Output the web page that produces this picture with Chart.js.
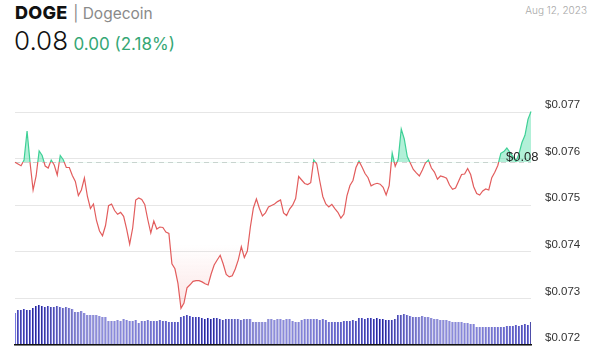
<!DOCTYPE html>
<html>
<head>
<meta charset="utf-8">
<script src="https://cdn.jsdelivr.net/npm/chart.js@4"></script>
<style>
  html, body { margin: 0; padding: 0; background: #fff; }
  body { width: 600px; height: 353px; position: relative; overflow: hidden; font-family: Inter, "Open Sans", sans-serif; }
  #chart { position: absolute; left: 0; top: 0; }
  .title { position: absolute; left: 15px; top: 2px; white-space: nowrap; }
  .sym { font-size: 18px; font-weight: 800; color: #111; letter-spacing: 0.3px; }
  .name { font-size: 15.5px; font-weight: 400; color: #8a8a8a; margin-left: 1px; }
  .price { position: absolute; left: 14px; top: 25px; white-space: nowrap; }
  .last { font-size: 26px; font-weight: 300; color: #111; }
  .chg { font-size: 17px; font-weight: 400; color: #35a775; margin-left: 1px; }
  .date { position: absolute; right: 13px; top: 4px; font-size: 10px; font-weight: 300; color: #a8a8a8; }
</style>
</head>
<body>
<div class="title"><span class="sym">DOGE</span> <span class="name">| Dogecoin</span></div>
<div class="price"><span class="last">0.08</span> <span class="chg">0.00 (2.18%)</span></div>
<div class="date">Aug 12, 2023</div>
<canvas id="chart" width="600" height="353"></canvas>
<script>
// DOGE price, one point per bar (USD)
const PRICES = [
  0.075921, 0.075884, 0.075848, 0.075970, 0.076592, 0.075906, 0.075326, 0.075627, 0.076163, 0.076066,
  0.075841, 0.075798, 0.075970, 0.075863, 0.075648, 0.076066, 0.075976, 0.075809, 0.075809, 0.075637,
  0.075509, 0.075208, 0.075326, 0.075584, 0.075187, 0.074929, 0.075026, 0.074672, 0.074446, 0.074345,
  0.074564, 0.074989, 0.075026, 0.074886, 0.074805, 0.074846, 0.074762, 0.074489, 0.074167, 0.074511,
  0.075112, 0.075155, 0.075122, 0.075015, 0.074693, 0.074403, 0.074661, 0.074489, 0.074532, 0.074521,
  0.074425, 0.074393, 0.073742, 0.073635, 0.073322, 0.072788, 0.072901, 0.073227, 0.073292, 0.073365,
  0.073380, 0.073380, 0.073354, 0.073313, 0.073288, 0.073524, 0.073717, 0.073824, 0.073925, 0.073738,
  0.073515, 0.073461, 0.073485, 0.073631, 0.073828, 0.074109, 0.073878, 0.074017, 0.074532, 0.074940,
  0.075133, 0.074929, 0.074768, 0.074837, 0.074961, 0.074994, 0.075026, 0.075077, 0.075112, 0.074833,
  0.074779, 0.074918, 0.075000, 0.075144, 0.075616, 0.075541, 0.075466, 0.075444, 0.075483, 0.075970,
  0.075884, 0.075519, 0.075187, 0.075026, 0.074961, 0.075019, 0.074927, 0.074848, 0.074725, 0.074811,
  0.075202, 0.075423, 0.075530, 0.075809, 0.075944, 0.075820, 0.075680, 0.075590, 0.075416, 0.075451,
  0.075470, 0.075451, 0.075384, 0.075219, 0.075421, 0.076120, 0.075835, 0.075991, 0.076635, 0.076421,
  0.076043, 0.075906, 0.075766, 0.075693, 0.075627, 0.075755, 0.075906, 0.075970, 0.075798, 0.075712,
  0.075558, 0.075627, 0.075609, 0.075577, 0.075433, 0.075341, 0.075369, 0.075513, 0.075659, 0.075670,
  0.075788, 0.075659, 0.075397, 0.075251, 0.075219, 0.075305, 0.075348, 0.075326, 0.075590, 0.075708,
  0.075852, 0.076114, 0.076150, 0.076227, 0.076135, 0.076043, 0.075940, 0.076099, 0.076345, 0.076500,
  0.076843, 0.077011
];

// traded volume per interval (relative units)
const VOLUMES = [
  32, 35, 35, 36, 35, 35, 37, 39, 40, 39,
  38, 39, 38, 38, 39, 38, 37, 38, 37, 36,
  33, 33, 34, 32, 30, 30, 30, 30, 29, 28,
  28, 24, 24, 24, 25, 24, 26, 25, 24, 24,
  25, 22, 24, 24, 25, 24, 24, 24, 25, 24,
  24, 23, 23, 23, 23, 28, 29, 30, 29, 28,
  28, 28, 27, 26, 27, 26, 27, 27, 26, 25,
  26, 26, 26, 26, 26, 25, 26, 26, 26, 23,
  23, 23, 23, 23, 26, 26, 25, 26, 26, 25,
  26, 26, 24, 23, 23, 25, 26, 26, 26, 26,
  26, 25, 26, 25, 23, 23, 23, 23, 23, 24,
  24, 24, 25, 24, 27, 27, 26, 27, 27, 26,
  27, 26, 26, 25, 25, 25, 26, 30, 30, 31,
  30, 29, 28, 28, 28, 29, 28, 28, 27, 26,
  26, 25, 25, 25, 24, 23, 23, 23, 23, 22,
  22, 21, 21, 18, 18, 18, 18, 18, 18, 18,
  18, 18, 18, 19, 19, 19, 20, 19, 20, 21,
  20, 23
];

// previous close, used for the dashed reference line and colouring
const BASE = 0.07592;

const Y_TICKS = [0.072, 0.073, 0.074, 0.075, 0.076, 0.077];

const GREEN = "rgb(62, 208, 150)";
const RED = "rgb(226, 92, 92)";

const labels = PRICES.map((_, i) => i);

// dashed base line + current price tag
const baseLinePlugin = {
  id: "baseLine",
  beforeDatasetsDraw(chart) {
    const { ctx, chartArea, scales } = chart;
    const y = Math.round(scales.y.getPixelForValue(BASE)) + 0.5;
    ctx.save();
    ctx.strokeStyle = "#d4d4d4";
    ctx.lineWidth = 1;
    ctx.setLineDash([5, 4]);
    ctx.beginPath();
    ctx.moveTo(chartArea.left, y);
    ctx.lineTo(chartArea.right, y);
    ctx.stroke();
    ctx.restore();
  },
  afterDatasetsDraw(chart) {
    const { ctx, chartArea, scales } = chart;
    const y = scales.y.getPixelForValue(BASE);
    ctx.save();
    ctx.font = "13px 'Liberation Sans', Arial, sans-serif";
    ctx.fillStyle = "#222";
    ctx.textBaseline = "alphabetic";
    ctx.fillText("$" + BASE.toFixed(2), chartArea.right - 25, y - 1);
    ctx.restore();
  },
};

function lineGradient(ctx) {
  const chart = ctx.chart;
  const area = chart.chartArea;
  if (!area) return RED;
  const yb = chart.scales.y.getPixelForValue(BASE);
  let s = (yb - area.top) / (area.bottom - area.top);
  s = Math.min(1, Math.max(0, s));
  const g = chart.ctx.createLinearGradient(0, area.top, 0, area.bottom);
  g.addColorStop(0, GREEN);
  g.addColorStop(s, GREEN);
  g.addColorStop(s, RED);
  g.addColorStop(1, RED);
  return g;
}

const chart = new Chart(document.getElementById("chart"), {
  type: "line",
  data: {
    labels: labels,
    datasets: [
      {
        type: "line",
        label: "Price",
        data: PRICES,
        borderColor: lineGradient,
        borderWidth: 1.2,
        pointRadius: 0,
        tension: 0,
        fill: {
          target: { value: BASE },
          above: "rgba(84, 222, 168, 0.45)",
          below: "rgba(240, 110, 110, 0)",
        },
        yAxisID: "y",
        order: 0,
        clip: 4,
      },
      {
        type: "bar",
        label: "Volume",
        data: VOLUMES,
        backgroundColor: "rgb(120, 120, 226)",
        borderColor: "rgb(42, 42, 146)",
        borderWidth: { left: 1, right: 0, top: 0, bottom: 0 },
        borderSkipped: false,
        barPercentage: 0.75,
        categoryPercentage: 1,
        yAxisID: "yv",
        order: 1,
      },
    ],
  },
  options: {
    responsive: false,
    animation: false,
    layout: { padding: { left: 15, top: 112, right: 15, bottom: 8 } },
    plugins: {
      legend: { display: false },
      tooltip: { enabled: false },
    },
    scales: {
      x: {
        type: "category",
        offset: false,
        grid: { display: false },
        ticks: { display: false },
        border: { display: true, color: "#111", width: 1.5, z: 1 },
        afterFit(axis) {
          axis.height = 0;
        },
      },
      y: {
        position: "right",
        min: 0.072,
        max: 0.077,
        afterBuildTicks(axis) {
          axis.ticks = Y_TICKS.map((v) => ({ value: v }));
        },
        afterFit(axis) {
          axis.width = 54;
          axis.paddingTop = 0;
          axis.paddingBottom = 0;
        },
        grid: { color: "#e6e6e6", drawTicks: false },
        border: { display: false },
        ticks: {
          padding: 14,
          labelOffset: -7,
          color: "#333",
          font: { family: "'Liberation Sans', Arial, sans-serif", size: 11.5 },
          callback: (v) => "$" + Number(v).toFixed(3),
        },
      },
      yv: {
        display: false,
        min: 0,
        max: 233,
      },
    },
  },
  plugins: [baseLinePlugin],
});

// red fill below base fades in toward the bottom
const area = chart.chartArea;
const yb = chart.scales.y.getPixelForValue(BASE);
const redFill = chart.ctx.createLinearGradient(0, yb, 0, area.bottom);
redFill.addColorStop(0, "rgba(240, 110, 110, 0)");
redFill.addColorStop(0.45, "rgba(240, 110, 110, 0)");
redFill.addColorStop(1, "rgba(240, 110, 110, 0.28)");
chart.data.datasets[0].fill.below = redFill;
chart.update("none");
</script>
</body>
</html>
